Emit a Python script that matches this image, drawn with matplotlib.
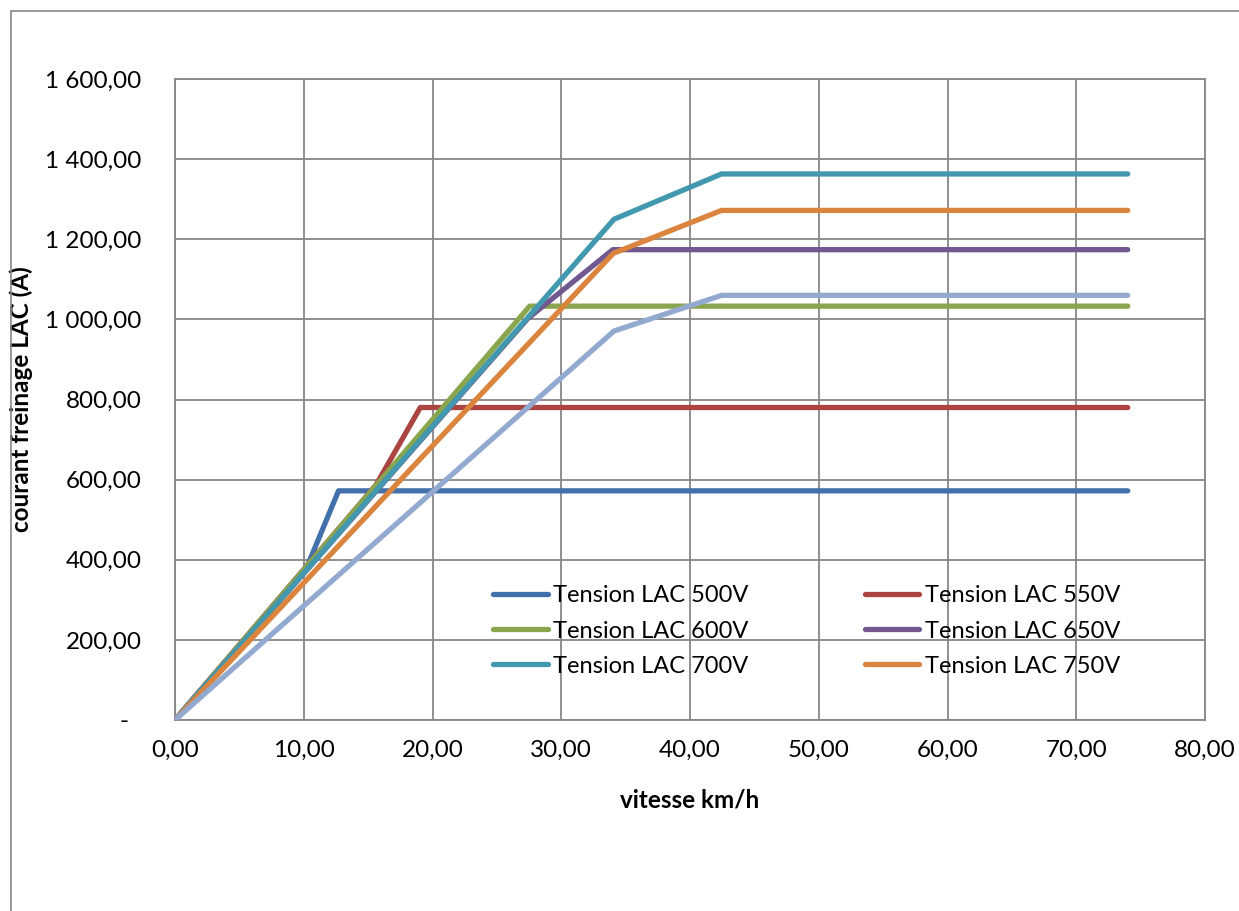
import matplotlib.pyplot as plt
from matplotlib.patches import Rectangle
from matplotlib.ticker import FuncFormatter

plt.rcParams['font.family'] = ['Lato', 'DejaVu Sans']

# vitesse (km/h) / courant de freinage (A) pour chaque tension LAC
v_500 = [0.0, 10.3, 12.7, 74.0]
i_500 = [0.0, 386.0, 572.0, 572.0]
v_550 = [0.0, 15.6, 19.05, 74.0]
i_550 = [0.0, 586.0, 780.0, 780.0]
v_600 = [0.0, 27.55, 74.0]
i_600 = [0.0, 1033.0, 1033.0]
v_650 = [0.0, 27.4, 34.0, 74.0]
i_650 = [0.0, 1002.0, 1174.0, 1174.0]
v_700 = [0.0, 34.1, 42.45, 74.0]
i_700 = [0.0, 1250.0, 1363.0, 1363.0]
v_750 = [0.0, 34.05, 42.45, 74.0]
i_750 = [0.0, 1165.0, 1272.0, 1272.0]
v_800 = [0.0, 34.1, 42.45, 74.0]
i_800 = [0.0, 971.0, 1060.0, 1060.0]

labels = ["Tension LAC 500V", "Tension LAC 550V", "Tension LAC 600V",
          "Tension LAC 650V", "Tension LAC 700V", "Tension LAC 750V"]
colors = ['#4270AA', '#AA4541', '#89A54E', '#71588F', '#4198AF', '#DB843D', '#93A9CF']

series = [(v_500, i_500), (v_550, i_550), (v_600, i_600), (v_650, i_650),
          (v_700, i_700), (v_750, i_750), (v_800, i_800)]

fig = plt.figure(figsize=(12.39, 9.11), dpi=100)
ax = fig.add_axes([175/1239, 1-720/911, (1205-175)/1239, (720-79)/911])

# cadre de la zone graphique
fig.patches.append(Rectangle((11/1239, -0.2), 1.2, 0.2 + 1 - 11/911, transform=fig.transFigure,
                             fill=False, edgecolor='#888888', lw=1.2))

lines = []
for k, (v, i) in enumerate(series):
    ln, = ax.plot(v, i, color=colors[k], lw=3.8, solid_capstyle='round',
                  solid_joinstyle='round', zorder=3)
    lines.append(ln)

ax.set_xlim(0, 80)
ax.set_ylim(0, 1600)
ax.set_xticks(range(0, 81, 10))
ax.set_yticks(range(0, 1601, 200))
ax.grid(True, color='#878787', lw=1.3)
ax.set_axisbelow(True)
for s in ax.spines.values():
    s.set_color('#878787')
    s.set_linewidth(1.3)


def fmt_fr(x, pos):
    if x == 0:
        return "-  "
    s = f"{x:,.2f}".replace(",", " ").replace(".", ",")
    return s


ax.yaxis.set_major_formatter(FuncFormatter(fmt_fr))
ax.xaxis.set_major_formatter(FuncFormatter(lambda x, p: f"{x:.2f}".replace(".", ",")))
ax.tick_params(axis='y', length=0, pad=24, labelsize=17.5)
ax.tick_params(axis='x', length=0, pad=14, labelsize=17.5)

ax.set_ylabel("courant freinage LAC (A)", fontsize=17.5, fontweight='bold')
ax.yaxis.set_label_coords(-0.138, 0.5)
ax.set_xlabel("vitesse km/h", fontsize=17.5, fontweight='bold', labelpad=20)

# ordre de la légende : lignes par paires
order = [0, 2, 4, 1, 3, 5]
leg = ax.legend([lines[j] for j in order], [labels[j] for j in order], ncol=2, frameon=False,
                fontsize=17, handlelength=2.3, handletextpad=0.25, columnspacing=4.9,
                labelspacing=0.6, loc='upper left', bbox_to_anchor=(0.309, 0.210),
                borderaxespad=0, borderpad=0)

fig.savefig("out.png", dpi=100)
